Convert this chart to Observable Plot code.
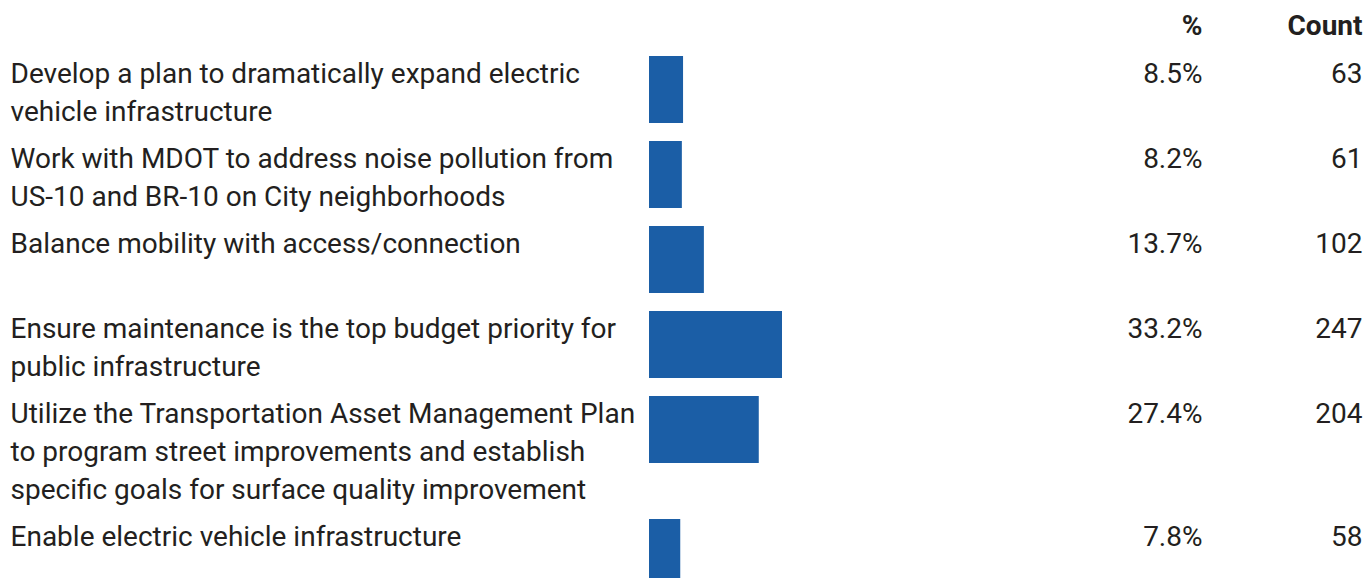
<!DOCTYPE html>
<html>
<head>
<meta charset="utf-8">
<script src="https://cdn.jsdelivr.net/npm/d3@7"></script>
<script src="https://cdn.jsdelivr.net/npm/@observablehq/plot@0.6"></script>
<style>
  html, body { margin: 0; padding: 0; background: #fff; }
</style>
</head>
<body>
<div id="chart"></div>
<script>
// ---- data ----
const labels = [
  "Develop a plan to dramatically expand electric\nvehicle infrastructure",
  "Work with MDOT to address noise pollution from\nUS-10 and BR-10 on City neighborhoods",
  "Balance mobility with access/connection",
  "Ensure maintenance is the top budget priority for\npublic infrastructure",
  "Utilize the Transportation Asset Management Plan\nto program street improvements and establish\nspecific goals for surface quality improvement",
  "Enable electric vehicle infrastructure"
];
const percents = [8.5, 8.2, 13.7, 33.2, 27.4, 7.8];
const counts = [63, 61, 102, 247, 204, 58];
const headers = ["%", "Count"];

// ---- layout (row positions in line units, derived from label line counts) ----
const gapUnits = 9 / 38;
const barUnits = 67 / 38;
let acc = 0;
const rows = labels.map((label, i) => {
  const lines = label.split("\n").length;
  const start = acc;
  acc += Math.max(2, lines) + gapUnits;
  return {label, pct: percents[i], count: counts[i], y1: start, y2: start + barUnits};
});

const fs = 28;
const lh = 38 / fs;

const chart = Plot.plot({
  width: 1372,
  height: 578,
  marginTop: 0, marginRight: 0, marginBottom: 0, marginLeft: 0,
  style: {fontFamily: "Roboto", fontSize: fs + "px", color: "#231f20", background: "#fff"},
  x: {domain: [0, 100], range: [649, 1049.6], axis: null},
  y: {domain: [0, 1], range: [56, 94], axis: null},
  marks: [
    Plot.rectX(rows, {x1: 0, x2: "pct", y1: "y1", y2: "y2", fill: "#1b5ea6"}),
    Plot.text(rows, {y: "y1", text: "label", frameAnchor: "left", textAnchor: "start", dx: 10,
      lineAnchor: "top", lineHeight: lh, fontSize: fs, fill: "#231f20"}),
    Plot.text(rows, {y: "y1", text: d => d.pct.toFixed(1) + "%", frameAnchor: "right", textAnchor: "end", dx: -170,
      lineAnchor: "top", lineHeight: lh, fontSize: fs, fill: "#231f20"}),
    Plot.text(rows, {y: "y1", text: d => String(d.count), frameAnchor: "right", textAnchor: "end", dx: -10,
      lineAnchor: "top", lineHeight: lh, fontSize: fs, fill: "#231f20"}),
    Plot.text([headers[0]], {text: d => d, frameAnchor: "top-right", textAnchor: "end", dx: -170, dy: 8,
      lineAnchor: "top", lineHeight: lh, fontSize: fs, fontWeight: "bold", fill: "#231f20"}),
    Plot.text([headers[1]], {text: d => d, frameAnchor: "top-right", textAnchor: "end", dx: -10, dy: 8,
      lineAnchor: "top", lineHeight: lh, fontSize: fs, fontWeight: "bold", fill: "#231f20"})
  ]
});
document.getElementById("chart").appendChild(chart);
</script>
</body>
</html>
